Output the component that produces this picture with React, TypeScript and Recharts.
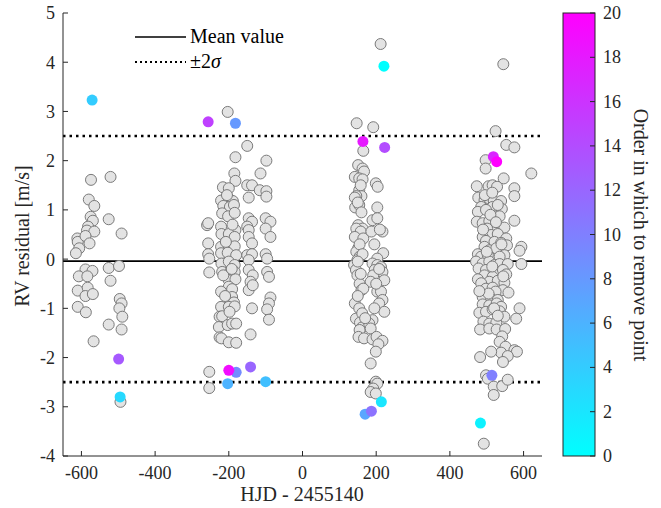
import React from 'react';
import { ScatterChart, Scatter, XAxis, YAxis, ReferenceLine, Label } from 'recharts';

// axis ticks
const xTicks = [-600, -400, -200, 0, 200, 400, 600];
const yTicks = [-4, -3, -2, -1, 0, 1, 2, 3, 4, 5];
const colorTicks = [0, 2, 4, 6, 8, 10, 12, 14, 16, 18, 20];

const meanValue = -0.04;
const twoSigma = 2.5;

// RV residuals per observing season [HJD offset, residual]
const season1: [number, number][] = [
  [-574, 1.61], [-521, 1.67], [-580, 1.21], [-565, 1.08], [-575, 0.86], [-569, 0.78], [-526, 0.81],
  [-582, 0.66], [-585, 0.58], [-565, 0.56], [-491, 0.52], [-611, 0.42], [-610, 0.35], [-589, 0.47],
  [-578, 0.32], [-606, 0.22], [-615, 0.12], [-589, -0.21], [-570, -0.24], [-526, -0.18], [-498, -0.14],
  [-607, -0.35], [-584, -0.35], [-521, -0.44], [-610, -0.64], [-583, -0.58], [-589, -0.75], [-569, -0.71],
  [-610, -0.97], [-588, -1.08], [-496, -0.81], [-491, -0.9], [-497, -1.0], [-489, -1.17], [-526, -1.33],
  [-491, -1.43], [-567, -1.67], [-494, -2.9],
];

const season2: [number, number][] = [
  [-203, 2.99], [-150, 2.3], [-182, 2.07], [-98, 2.0], [-185, 1.74], [-114, 1.74], [-182, 1.59],
  [-216, 1.46], [-200, 1.44], [-150, 1.5], [-137, 1.5], [-116, 1.4], [-98, 1.38], [-98, 1.27],
  [-146, 1.25], [-221, 1.19], [-200, 1.23], [-189, 1.18], [-215, 1.08], [-197, 1.06], [-186, 1.1],
  [-218, 0.93], [-202, 0.87], [-184, 0.94], [-146, 0.83], [-137, 0.76], [-100, 0.83], [-87, 0.76],
  [-259, 0.69], [-256, 0.73], [-221, 0.66], [-182, 0.59], [-150, 0.66], [-146, 0.59], [-100, 0.62],
  [-87, 0.45], [-220, 0.51], [-200, 0.51], [-184, 0.45], [-146, 0.45], [-137, 0.32], [-256, 0.32],
  [-221, 0.25], [-200, 0.25], [-184, 0.26], [-221, 0.12], [-203, 0.13], [-180, 0.08], [-256, 0.1],
  [-253, 0.01], [-150, 0.08], [-137, 0.1], [-146, -0.02], [-100, 0.1], [-96, 0.01], [-220, -0.09],
  [-200, -0.05], [-184, -0.12], [-253, -0.27], [-218, -0.26], [-196, -0.26], [-184, -0.26], [-96, -0.26],
  [-91, -0.36], [-146, -0.22], [-135, -0.33], [-141, -0.46], [-146, -0.63], [-135, -0.53], [-200, -0.43],
  [-182, -0.41], [-215, -0.33], [-200, -0.56], [-191, -0.61], [-221, -0.66], [-191, -0.77], [-186, -0.88],
  [-87, -0.78], [-91, -0.9], [-96, -1.02], [-221, -0.97], [-200, -0.97], [-184, -0.96], [-137, -1.0],
  [-225, -1.17], [-218, -1.16], [-198, -1.07], [-91, -1.23], [-227, -1.38], [-203, -1.34], [-191, -1.31],
  [-180, -1.31], [-141, -1.53], [-225, -1.59], [-220, -1.61], [-200, -1.69], [-180, -1.7], [-253, -2.29],
  [-253, -2.62], [-208, 0.35], [-192, -0.2], [-210, -0.75], [-190, 0.7], [-205, 1.3],
];

const season3: [number, number][] = [
  [212, 4.37], [147, 2.76], [192, 2.68], [165, 2.2], [151, 1.91], [163, 1.84], [167, 1.78],
  [142, 1.67], [154, 1.64], [163, 1.62], [199, 1.54], [204, 1.47], [154, 1.4], [160, 1.28],
  [146, 1.28], [142, 1.25], [149, 1.06], [143, 1.05], [154, 1.1], [203, 1.05], [190, 0.79],
  [203, 0.83], [151, 0.69], [163, 0.62], [146, 0.62], [158, 0.56], [142, 0.45], [165, 0.42],
  [187, 0.56], [217, 0.56], [151, 0.22], [146, 0.15], [219, 0.12], [155, 0.05], [149, -0.02],
  [203, 0.01], [140, -0.12], [145, -0.22], [149, -0.33], [190, -0.09], [203, -0.12], [213, -0.16],
  [217, -0.26], [196, -0.22], [192, -0.33], [222, -0.43], [155, -0.5], [160, -0.63], [185, -0.46],
  [203, -0.66], [213, -0.66], [217, -0.83], [208, -0.9], [222, -1.07], [142, -0.9], [154, -1.0],
  [145, -1.21], [156, -1.29], [161, -1.39], [155, -1.44], [190, -1.24], [181, -1.31], [185, -1.41],
  [152, -1.58], [167, -1.61], [190, -1.63], [201, -1.58], [217, -1.66], [206, -1.73], [199, -1.88],
  [185, -2.12], [199, -2.49], [203, -2.53], [192, -2.63], [185, -2.7], [199, -2.73],
  [158, 1.5], [150, 1.15], [160, 0.95], [155, 0.3], [163, 0.1], [150, -0.05], [158, -0.3],
  [165, -0.6], [150, -0.75], [162, -1.1], [170, -1.2], [195, -1.0], [200, -0.5], [208, -0.2],
  [195, 0.3], [210, 0.6],
];

const season4: [number, number][] = [
  [545, 3.96], [524, 2.6], [553, 2.32], [575, 2.27], [497, 2.01], [497, 1.84], [621, 1.74],
  [546, 1.64], [473, 1.48], [505, 1.48], [516, 1.5], [528, 1.47], [575, 1.44], [575, 1.28],
  [477, 1.25], [494, 1.2], [507, 1.23], [519, 1.18], [539, 1.18], [485, 1.06], [516, 1.06],
  [541, 1.02], [476, 0.96], [498, 1.0], [521, 0.87], [535, 0.87], [575, 0.78], [473, 0.76],
  [489, 0.73], [507, 0.77], [526, 0.66], [548, 0.64], [501, 0.62], [512, 0.49], [530, 0.51],
  [553, 0.42], [489, 0.45], [498, 0.37], [521, 0.35], [539, 0.33], [555, 0.28], [594, 0.25],
  [589, 0.17], [494, 0.25], [507, 0.18], [526, 0.22], [476, 0.1], [485, 0.05], [503, 0.08],
  [548, 0.08], [535, 0.05], [471, -0.05], [489, -0.09], [507, -0.05], [521, -0.12], [535, -0.1],
  [557, -0.1], [594, -0.1], [478, -0.19], [498, -0.22], [526, -0.26], [544, -0.22], [494, -0.33],
  [553, -0.31], [516, -0.36], [476, -0.41], [507, -0.46], [530, -0.44], [548, -0.48], [485, -0.49],
  [498, -0.6], [516, -0.58], [544, -0.63], [524, -0.66], [559, -0.68], [489, -0.77], [512, -0.8],
  [530, -0.83], [489, -0.92], [507, -0.94], [527, -0.9], [539, -0.97], [589, -1.0], [480, -1.09],
  [498, -1.07], [516, -1.02], [535, -1.06], [548, -1.17], [580, -1.21], [491, -1.27], [507, -1.31],
  [526, -1.29], [482, -1.43], [507, -1.41], [527, -1.43], [550, -1.42], [542, -1.57], [535, -1.68],
  [551, -1.78], [575, -1.85], [582, -1.88], [539, -1.9], [557, -1.97], [544, -2.09], [512, -1.88],
  [482, -1.99], [498, -2.36], [503, -2.43], [519, -2.59], [542, -2.58], [557, -2.45], [519, -2.76],
  [492, -3.75], [490, 0.6], [510, 0.9], [530, 1.1], [500, 0.15], [515, -0.15], [540, 0.3],
  [505, -0.7], [520, -1.0], [495, 1.3], [525, 0.75], [545, -0.35], [480, -0.65], [530, -1.15],
  [515, 1.35],
];

// points flagged for removal, coloured by removal order
const outlierX = [221, 483, 214, -495, -571, -100, -203, 170, -182, -180, 514, 187, -141, -499, 223, -256, 518, 164, -200, 527];
const outlierY = [3.92, -3.33, -2.9, -2.8, 3.23, -2.49, -2.53, -3.15, 2.76, -2.3, -2.36, -3.09, -2.19, -2.03, 2.27, 2.79, 2.08, 2.39, -2.26, 1.98];
const outlierOrder = [0, 1, 2, 3, 4, 5, 6, 7, 8, 9, 10, 11, 12, 13, 14, 15, 17, 18, 19, 20];

const coolColor = (v: number) => {
  const t = Math.max(0, Math.min(1, v / 20));
  return `rgb(${Math.round(255 * t)}, ${Math.round(255 * (1 - t))}, 255)`;
};

const greyData = [...season1, ...season2, ...season3, ...season4].map(([x, y]) => ({ x, y }));
const outlierData = outlierX.map((x, i) => ({ x, y: outlierY[i], order: outlierOrder[i] }));

const FONT = 'Liberation Serif, DejaVu Serif, serif';
const INK = '#262626';
const tickStyle = { fill: INK, fontSize: 18, fontFamily: FONT };
const TITLE = 20;

const W = 661;
const H = 508;
const plot = { left: 63, right: 542, top: 13, bottom: 456 };
const bar = { left: 563, right: 595 };

export default function App() {
  const barY = (v: number) => plot.bottom - (v / 20) * (plot.bottom - plot.top);
  return (
    <div style={{ position: 'absolute', left: 0, top: 0, width: W, height: H, background: '#fff', fontFamily: FONT }}>
      <ScatterChart
        width={W}
        height={H}
        margin={{ top: plot.top, right: W - plot.right, bottom: 0, left: 0 }}
        style={{ fontFamily: FONT }}
      >
        <XAxis
          type="number"
          dataKey="x"
          domain={[-650, 650]}
          ticks={xTicks}
          allowDataOverflow
          height={H - plot.bottom}
          tickSize={-5}
          tickMargin={15}
          tick={tickStyle}
          stroke={INK}
        >
          <Label
            content={() => (
              <text x={302} y={501} textAnchor="middle" fill={INK} fontSize={TITLE} style={{ fontFamily: FONT }}>
                HJD - 2455140
              </text>
            )}
          />
        </XAxis>
        <XAxis
          xAxisId="top"
          orientation="top"
          type="number"
          domain={[-650, 650]}
          ticks={xTicks}
          allowDataOverflow
          height={0}
          tickSize={-5}
          tick={false}
          stroke={INK}
        />
        <YAxis
          type="number"
          dataKey="y"
          domain={[-4, 5]}
          ticks={yTicks}
          allowDataOverflow
          width={plot.left}
          tickSize={-5}
          tickMargin={13}
          tick={tickStyle}
          stroke={INK}
        >
          <Label
            content={() => (
              <text
                x={22}
                y={236}
                transform="rotate(-90 22 236)"
                textAnchor="middle"
                dominantBaseline="central"
                fill={INK}
                fontSize={TITLE}
                style={{ fontFamily: FONT }}
              >
                RV residual [m/s]
              </text>
            )}
          />
        </YAxis>
        <YAxis
          yAxisId="right"
          orientation="right"
          type="number"
          domain={[-4, 5]}
          ticks={yTicks}
          allowDataOverflow
          width={0}
          tickSize={-5}
          tick={false}
          stroke={INK}
        />
        <ReferenceLine y={meanValue} stroke="#000" strokeWidth={1.6} />
        <ReferenceLine y={twoSigma} stroke="#000" strokeWidth={2.6} strokeDasharray="2.5 4" />
        <ReferenceLine y={-twoSigma} stroke="#000" strokeWidth={2.6} strokeDasharray="2.5 4" />
        <Scatter
          data={greyData}
          isAnimationActive={false}
          shape={(p: any) => (
            <circle cx={p.cx} cy={p.cy} r={5.5} fill="#e3e3e3" stroke="#7a7a7a" strokeWidth={1} />
          )}
        />
        <Scatter
          data={outlierData}
          isAnimationActive={false}
          shape={(p: any) => (
            <circle cx={p.cx} cy={p.cy} r={5.5} fill={coolColor(p.payload.order)} stroke="none" />
          )}
        />
      </ScatterChart>

      <svg
        width={W}
        height={H}
        style={{ position: 'absolute', left: 0, top: 0, pointerEvents: 'none', fontFamily: FONT }}
      >
        {/* legend */}
        <line x1={135} x2={186} y1={37} y2={37} stroke="#000" strokeWidth={1.6} />
        <text x={190} y={43} fontSize={TITLE} fill="#000">Mean value</text>
        <line x1={135} x2={186} y1={62} y2={62} stroke="#000" strokeWidth={2} strokeDasharray="2 3" />
        <text x={190} y={68} fontSize={TITLE} fill="#000">
          ±2<tspan fontStyle="italic">σ</tspan>
        </text>

        {/* colorbar */}
        <defs>
          <linearGradient id="cool" x1="0" y1="1" x2="0" y2="0">
            <stop offset="0%" stopColor="#00ffff" />
            <stop offset="100%" stopColor="#ff00ff" />
          </linearGradient>
        </defs>
        <rect
          x={bar.left}
          y={plot.top}
          width={bar.right - bar.left}
          height={plot.bottom - plot.top}
          fill="url(#cool)"
          stroke={INK}
          strokeWidth={1}
        />
        {colorTicks.map((v) => (
          <g key={v}>
            <line x1={bar.right - 5} x2={bar.right} y1={barY(v)} y2={barY(v)} stroke={INK} strokeWidth={1} />
            <text x={bar.right + 8} y={barY(v)} dominantBaseline="central" fontSize={18} fill={INK}>
              {v}
            </text>
          </g>
        ))}
        <text
          x={641}
          y={235}
          transform="rotate(90 641 235)"
          textAnchor="middle"
          dominantBaseline="central"
          fontSize={TITLE}
          fill={INK}
        >
          Order in which to remove point
        </text>
      </svg>
    </div>
  );
}
